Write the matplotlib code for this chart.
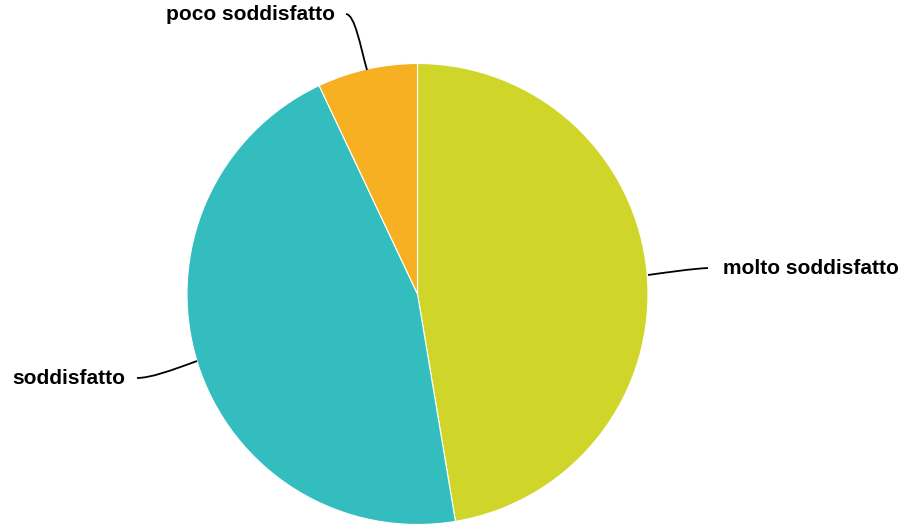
import matplotlib
matplotlib.use("Agg")
import matplotlib.pyplot as plt
from matplotlib.path import Path
from matplotlib.patches import PathPatch
import numpy as np

categories = ["molto soddisfatto", "soddisfatto", "poco soddisfatto"]
values = [27, 26, 4]
colors = ["#D0D629", "#34BDBF", "#F7B022"]

W, H = 904, 525
fig = plt.figure(figsize=(W / 100, H / 100), dpi=100)
ax = fig.add_axes([0, 0, 1, 1])
ax.set_xlim(0, W)
ax.set_ylim(0, H)
ax.set_aspect("equal")
ax.axis("off")

cx, cy, r = 417.5, H - 294, 230.5
wedges, _ = ax.pie(values, colors=colors, startangle=90, counterclock=False,
                   center=(cx, cy), radius=r, frame=True,
                   wedgeprops=dict(edgecolor="white", linewidth=0.8))
ax.set_xlim(0, W)
ax.set_ylim(0, H)
ax.axis("off")

def py(y):
    return H - y

# leader lines (pixel coords, y down) and label placement
leaders = [
    # molto
    dict(pts=[(648, 275), (670, 272), (690, 269), (708, 268)],
         text=(723, 268), ha="left"),
    # soddisfatto
    dict(pts=[(197, 361), (170, 371), (150, 378), (137, 378)],
         text=(125, 378), ha="right"),
    # poco
    dict(pts=[(367, 70), (360, 45), (355, 15), (346, 14)],
         text=(335, 15), ha="right"),
]

for cat, ld in zip(categories, leaders):
    verts = [(x, py(y)) for x, y in ld["pts"]]
    path = Path(verts, [Path.MOVETO, Path.CURVE4, Path.CURVE4, Path.CURVE4])
    ax.add_patch(PathPatch(path, facecolor="none", edgecolor="black", lw=1.3))
    tx, ty = ld["text"]
    ax.text(tx, py(ty), cat, ha=ld["ha"], va="center", fontsize=15,
            fontweight="bold", family="Liberation Sans", color="black")

fig.savefig("out.png", dpi=100, facecolor="white")
